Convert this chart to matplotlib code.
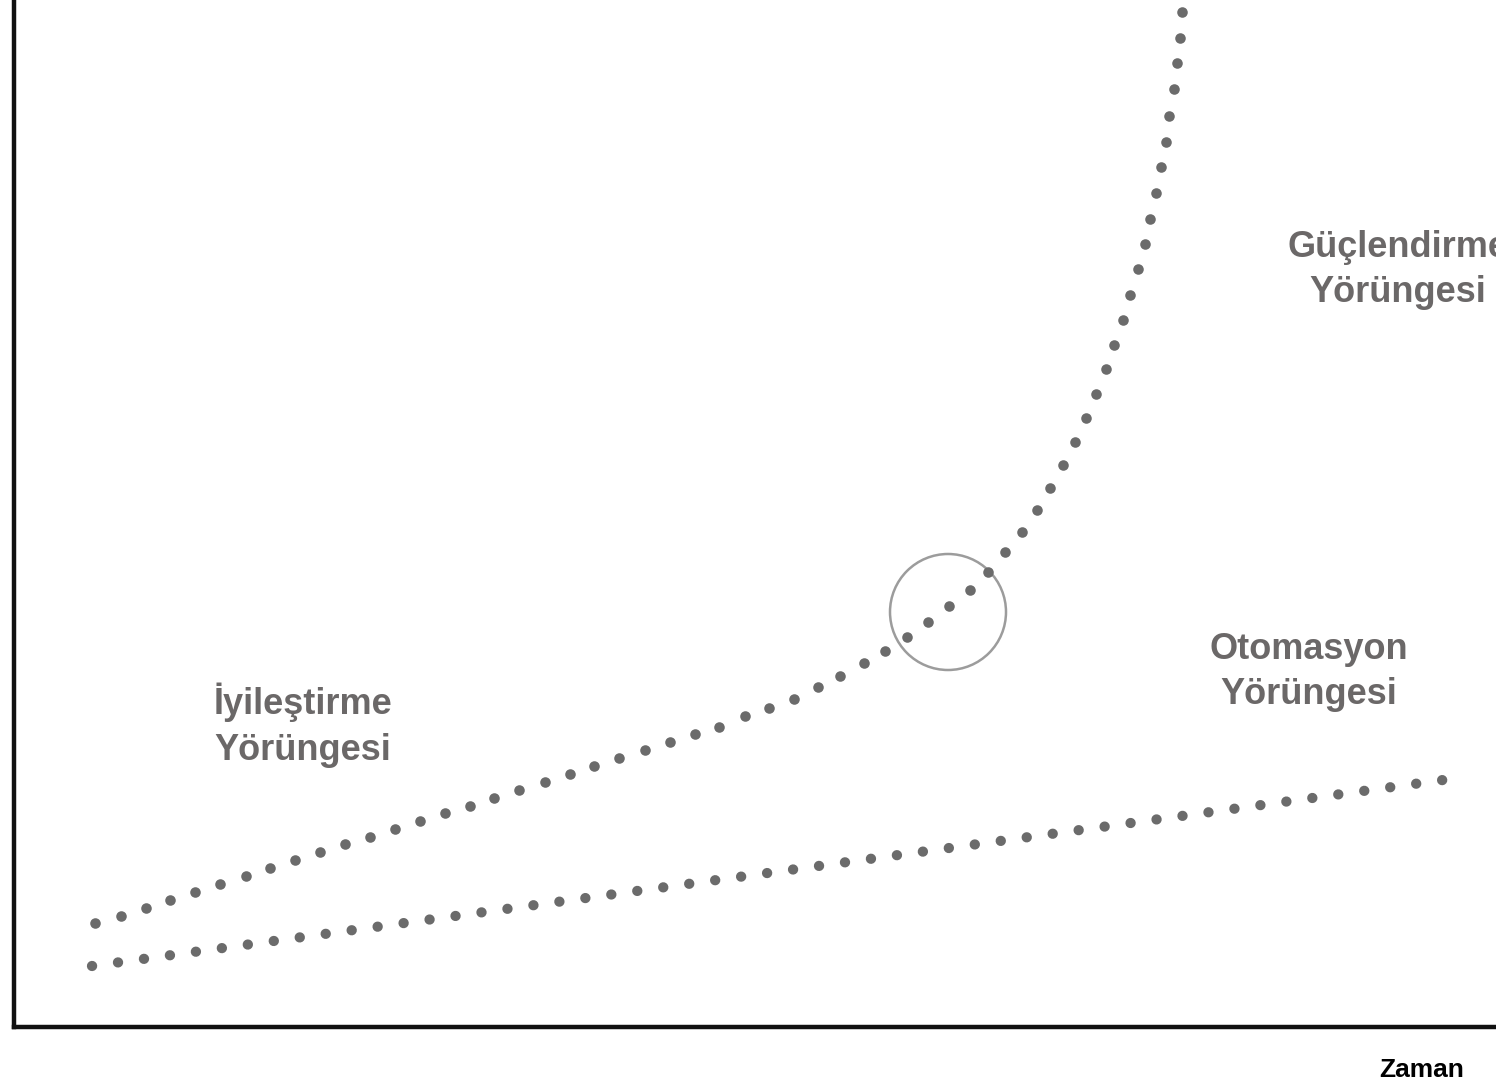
import matplotlib
matplotlib.use("Agg")
import matplotlib.pyplot as plt
from matplotlib.patches import Circle

# upper trajectory (improvement -> amplification), dot centres
upper_x = [81, 107, 132, 156, 181, 206, 232, 256, 281, 306,
           331, 356, 381, 406, 431, 456, 480, 505, 531, 556,
           580, 605, 631, 656, 681, 705, 731, 755, 780, 804,
           826, 850, 871, 893, 914, 935, 956, 974, 991, 1008,
           1023, 1036, 1049, 1061, 1072, 1082, 1092, 1100, 1109, 1116,
           1124, 1131, 1136, 1142, 1147, 1152, 1155, 1160, 1163, 1166, 1168]
upper_y = [104, 111, 119, 127, 135, 143, 151, 159, 167, 175,
           183, 190, 198, 206, 214, 221, 229, 237, 245, 253,
           261, 269, 277, 285, 293, 300, 311, 319, 328, 340,
           351, 364, 376, 390, 405, 421, 437, 455, 475, 495,
           517, 539, 562, 585, 609, 633, 658, 682, 707, 732,
           758, 783, 808, 834, 860, 885, 911, 938, 964, 989, 1015]

# automation trajectory (straight)
lower_x = [78, 1429]
lower_y = [61, 247]

# turning point
turn_x, turn_y, turn_r = 934, 415, 58

dot_col = "#6b6b6b"
txt_col = "#6b6868"

fig = plt.figure(figsize=(14.96, 10.87), dpi=100)
ax = fig.add_axes([14 / 1496, 60 / 1087, 1 - 14 / 1496, 1 - 60 / 1087])
ax.set_xlim(0, 1482)
ax.set_ylim(0, 1027)

ax.plot(upper_x, upper_y, 'o', color=dot_col, markersize=7.6, markeredgewidth=0)
ax.plot(lower_x, lower_y, color=dot_col, lw=7.4, linestyle=(0, (0.01, 2.54)),
        dash_capstyle='round')

ax.add_patch(Circle((turn_x, turn_y), turn_r, fill=False, edgecolor="#9c9c9c", lw=1.8))

font = dict(family=['Liberation Sans', 'DejaVu Sans'], fontweight='bold', fontsize=26,
            color=txt_col, ha='center', va='center', linespacing=1.4)
ax.text(1384, 757, "Güçlendirme\nYörüngesi", clip_on=False, **font)
ax.text(289, 302, "İyileştirme\nYörüngesi", **font)
ax.text(1295, 355, "Otomasyon\nYörüngesi", **font)

fig.text(1422 / 1496, 1 - 1070 / 1087, "Zaman", family=['Liberation Sans', 'DejaVu Sans'],
         fontweight='bold', fontsize=19, color='black', ha='center', va='center')

for s in ['top', 'right']:
    ax.spines[s].set_visible(False)
for s in ['left', 'bottom']:
    ax.spines[s].set_linewidth(3.2)
    ax.spines[s].set_color('#111111')
ax.set_xticks([])
ax.set_yticks([])

fig.savefig("out.png", dpi=100)
